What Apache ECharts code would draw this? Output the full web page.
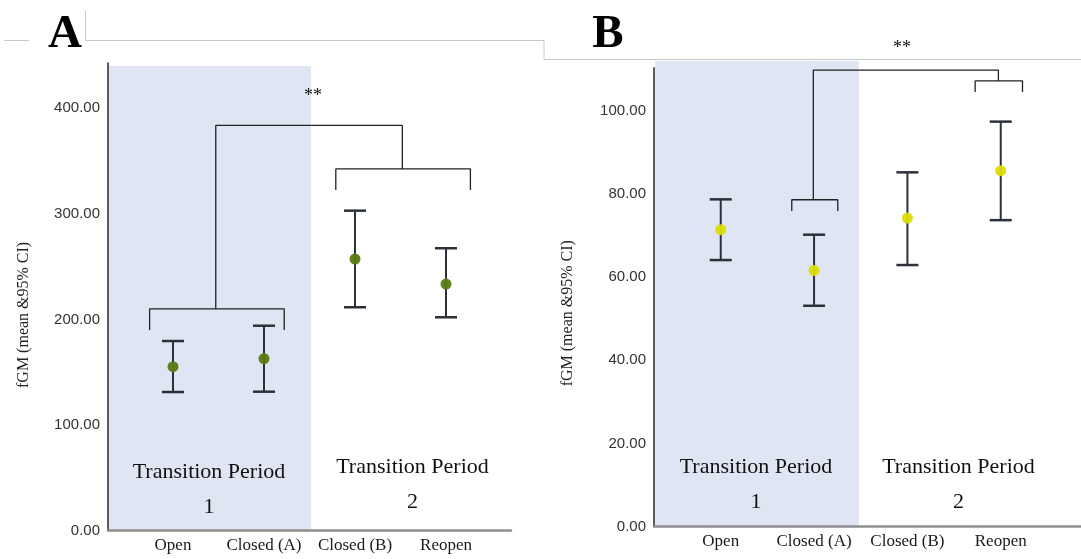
<!DOCTYPE html>
<html>
<head>
<meta charset="utf-8">
<script src="https://cdn.jsdelivr.net/npm/echarts@6/dist/echarts.min.js"></script>
<style>
html,body{margin:0;padding:0;background:#fff;}
#chart{width:1081px;height:559px;}
</style>
</head>
<body>
<div id="chart"></div>
<script>
// ---------- data ----------
const categories = ['Open', 'Closed (A)', 'Closed (B)', 'Reopen'];
const meanA  = [155.2, 162.8, 257.2, 233.5];
const lowerA = [131.2, 131.5, 211.5, 202.0];
const upperA = [179.5, 194.0, 303.0, 267.4];
const meanB  = [71.4, 61.6, 74.2, 85.6];
const lowerB = [64.1, 53.1, 62.9, 73.7];
const upperB = [78.7, 70.2, 85.2, 97.4];
const yTicksA = [0, 100, 200, 300, 400];
const yTicksB = [0, 20, 40, 60, 80, 100];
const yAxisName = 'fGM (mean &95% CI)';
const periodTitle = 'Transition Period';
const periodNumbers = ['1', '2'];
const sigLabel = '**';
const panelLetters = ['A', 'B'];
// significance brackets (category index, value)
const bracketA = [
  [[-0.257, 190.0], [-0.257, 210.0], [1.222, 210.0], [1.222, 190.0]],
  [[0.47, 210.0], [0.47, 383.7], [2.52, 383.7], [2.52, 342.5]],
  [[1.789, 322.6], [1.789, 342.5], [3.268, 342.5], [3.268, 322.6]]
];
const bracketB = [
  [[0.761, 75.9], [0.761, 78.6], [1.254, 78.6], [1.254, 75.9]],
  [[0.992, 78.6], [0.992, 109.8], [2.975, 109.8], [2.975, 107.2]],
  [[2.726, 104.5], [2.726, 107.2], [3.233, 107.2], [3.233, 104.5]]
];
// shaded period 1 zone: [x from, x to, top value]
const shadeA = [-0.714, 1.516, 440];
const shadeB = [-0.715, 1.48, 112];

// ---------- styles ----------
const serif = "'Liberation Serif', 'Times New Roman', serif";
const sans = "'Liberation Sans', Arial, sans-serif";
const barColor = '#2c3038';
const shadeColor = '#dfe5f2';

const chart = echarts.init(document.getElementById('chart'), null, {renderer: 'canvas'});

function xAxisCfg(gridIndex, min, max) {
  return {
    gridIndex, type: 'value', min, max,
    axisLine: {show: true, onZero: false, lineStyle: {color: '#8e8e8e', width: 2.5}},
    axisTick: {show: false},
    splitLine: {show: false},
    axisLabel: {
      customValues: [0, 1, 2, 3],
      formatter: v => categories[Math.round(v)] || '',
      fontFamily: serif, fontSize: 17, color: '#1a1a1a', margin: 7
    }
  };
}
function yAxisCfg(gridIndex, max, ticks, pad) {
  return {
    gridIndex, type: 'value', min: 0, max,
    name: yAxisName, nameLocation: 'middle', nameRotate: 90, nameGap: gridIndex === 0 ? 76 : 78,
    nameTextStyle: {fontFamily: serif, fontSize: 16, color: '#222', padding: [0, pad, 0, 0]},
    axisLine: {show: true, onZero: false, lineStyle: {color: '#5c5c5c', width: 2}},
    axisTick: {show: false},
    splitLine: {show: false},
    axisLabel: {
      customValues: ticks,
      formatter: v => v.toFixed(2),
      fontFamily: sans, fontSize: 15, color: '#333', margin: 8
    }
  };
}

function shadeSeries(idx, shade) {
  return {
    type: 'custom', xAxisIndex: idx, yAxisIndex: idx, z: 0, clip: false, silent: true,
    data: [shade],
    encode: {x: [0, 1], y: 2},
    renderItem: (params, api) => {
      const p0 = api.coord([api.value(0), 0]);
      const p1 = api.coord([api.value(1), api.value(2)]);
      return {type: 'rect', shape: {x: p0[0] + 1, y: p1[1], width: p1[0] - p0[0] - 1, height: p0[1] - p1[1]},
        style: {fill: shadeColor}};
    }
  };
}
function errorSeries(idx, lo, hi) {
  return {
    type: 'custom', xAxisIndex: idx, yAxisIndex: idx, z: 3,
    data: categories.map((c, i) => [i, lo[i], hi[i]]),
    encode: {x: 0, y: [1, 2]},
    renderItem: (params, api) => {
      const x = api.value(0);
      const a = api.coord([x, api.value(1)]);
      const b = api.coord([x, api.value(2)]);
      const hw = 11;
      return {type: 'group', children: [
        {type: 'line', shape: {x1: a[0], y1: a[1], x2: b[0], y2: b[1]}, style: {stroke: barColor, lineWidth: 2}},
        {type: 'line', shape: {x1: a[0] - hw, y1: a[1], x2: a[0] + hw, y2: a[1]}, style: {stroke: barColor, lineWidth: 2.5}},
        {type: 'line', shape: {x1: b[0] - hw, y1: b[1], x2: b[0] + hw, y2: b[1]}, style: {stroke: barColor, lineWidth: 2.5}}
      ]};
    }
  };
}
function meanSeries(idx, vals, color) {
  return {
    type: 'scatter', xAxisIndex: idx, yAxisIndex: idx, z: 4,
    symbol: 'circle', symbolSize: 11,
    itemStyle: {color, opacity: 0.95},
    data: vals.map((v, i) => [i, v])
  };
}
function bracketSeries(idx, paths) {
  return paths.map(p => ({
    type: 'line', xAxisIndex: idx, yAxisIndex: idx, z: 2,
    data: p, symbol: 'none', silent: true, clip: false,
    lineStyle: {color: '#222', width: 1.3}
  }));
}

const txt = (text, x, y, size, extra) => ({
  type: 'text', x, y, silent: true, z: 100,
  style: Object.assign({text, fontFamily: serif, fontSize: size, fill: '#111', align: 'center', verticalAlign: 'middle'}, extra || {})
});
const hline = (x1, y1, x2, y2) => ({type: 'line', silent: true, z: 100, shape: {x1, y1, x2, y2}, style: {stroke: '#c8c8c8', lineWidth: 1}});

const option = {
  animation: false,
  backgroundColor: '#fff',
  grid: [
    {left: 108, right: 570, top: 63.3, bottom: 28.5},
    {left: 654, right: 0, top: 68, bottom: 32.5}
  ],
  xAxis: [xAxisCfg(0, -0.714, 3.714), xAxisCfg(1, -0.715, 3.86)],
  yAxis: [yAxisCfg(0, 442.6, yTicksA, 36), yAxisCfg(1, 110.3, yTicksB, 32)],
  series: [
    shadeSeries(0, shadeA),
    meanSeries(0, meanA, '#587a12'),
    errorSeries(0, lowerA, upperA),
    ...bracketSeries(0, bracketA),
    shadeSeries(1, shadeB),
    meanSeries(1, meanB, '#dedc00'),
    errorSeries(1, lowerB, upperB),
    ...bracketSeries(1, bracketB)
  ],
  graphic: [
    hline(4, 40.5, 29, 40.5),
    hline(85.5, 11, 85.5, 40.5),
    hline(85.5, 40.5, 544, 40.5),
    hline(544, 40.5, 544, 59.5),
    hline(544, 59.5, 1081, 59.5),
    txt(panelLetters[0], 65, 35, 47, {fontWeight: 'bold', fill: '#000'}),
    txt(panelLetters[1], 608, 35, 47, {fontWeight: 'bold', fill: '#000'}),
    txt(sigLabel, 313, 96, 18),
    txt(sigLabel, 902, 48, 18),
    txt(periodTitle, 209, 472, 22),
    txt(periodNumbers[0], 209, 507, 22),
    txt(periodTitle, 412.5, 467, 22),
    txt(periodNumbers[1], 412.5, 502, 22),
    txt(periodTitle, 756, 467, 22),
    txt(periodNumbers[0], 756, 502, 22),
    txt(periodTitle, 958.5, 467, 22),
    txt(periodNumbers[1], 958.5, 502, 22)
  ]
};
chart.setOption(option);
</script>
</body>
</html>
